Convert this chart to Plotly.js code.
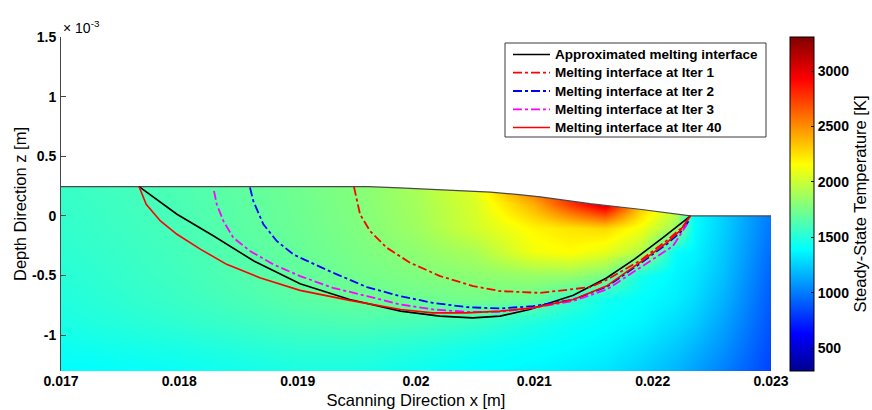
<!DOCTYPE html>
<html>
<head>
<meta charset="utf-8">
<script src="https://cdn.plot.ly/plotly-3.0.1.min.js"></script>
<style>html,body{margin:0;padding:0;background:#fff;}#chart{width:872px;height:410px;}</style>
</head>
<body>
<div id="chart"></div>
<script>
// ---- temperature field (K), grid ----
// depth values are in units of 1e-3 m (as shown on the axis with the ×10^-3 factor)
var gridX = [0.017, 0.0175, 0.018, 0.0185, 0.019, 0.0195, 0.020, 0.0205, 0.021, 0.0213, 0.0216, 0.0219, 0.0222, 0.02235, 0.0226, 0.023];
var gridZ = [-1.3, -1.1, -0.9, -0.7, -0.5, -0.3, -0.1, 0.1, 0.25];
var tempRowM130 = [1388, 1400, 1416, 1445, 1470, 1470, 1430, 1393, 1370, 1345, 1316, 1250, 1170, 1110, 1010, 820];
var tempRowM110 = [1430, 1450, 1470, 1500, 1530, 1530, 1500, 1450, 1410, 1390, 1360, 1305, 1230, 1175, 1065, 845];
var tempRowM090 = [1470, 1500, 1530, 1565, 1600, 1620, 1600, 1560, 1480, 1430, 1400, 1365, 1290, 1240, 1115, 870];
var tempRowM070 = [1490, 1528, 1565, 1610, 1660, 1700, 1720, 1740, 1700, 1560, 1440, 1395, 1345, 1290, 1160, 895];
var tempRowM050 = [1508, 1547, 1585, 1635, 1684, 1738, 1776, 1814, 1853, 1853, 1776, 1454, 1365, 1325, 1200, 920];
var tempRowM030 = [1525, 1560, 1595, 1648, 1700, 1757, 1820, 1900, 2120, 2159, 2082, 1929, 1393, 1365, 1225, 950];
var tempRowM010 = [1539, 1573, 1607, 1661, 1715, 1776, 1868, 2021, 2182, 2236, 2274, 2120, 1853, 1393, 1245, 980];
var tempRowP010 = [1550, 1582, 1615, 1668, 1722, 1785, 1885, 2045, 2400, 2750, 3050, 2350, 2000, 1400, 1255, 990];
var tempRowP025 = [1562, 1592, 1623, 1677, 1730, 1791, 1899, 2080, 2650, 2950, 3300, 2700, 2150, 1410, 1260, 995];
var tempMin = 293, tempMax = 3307;

// ---- top surface of the domain ----
var surfX = [0.017, 0.0196, 0.01986, 0.02009, 0.02039, 0.02063, 0.02085, 0.02105, 0.02147, 0.02189, 0.02232, 0.023];
var surfZ = [0.245, 0.245, 0.236, 0.225, 0.21, 0.20, 0.18, 0.16, 0.103, 0.056, 0.0, 0.0];

// ---- melting interfaces ----
var approxX = [0.01766, 0.01798, 0.01829, 0.01863, 0.01902, 0.01944, 0.01987, 0.02020, 0.02048, 0.02071, 0.02096, 0.02133, 0.02161, 0.02185, 0.02209, 0.02232];
var approxZ = [0.245, 0.014, -0.168, -0.378, -0.569, -0.700, -0.798, -0.840, -0.855, -0.840, -0.785, -0.665, -0.52, -0.36, -0.18, 0.0];

var iter1X = [0.019476, 0.019527, 0.019611, 0.019752, 0.019949, 0.020203, 0.020482, 0.020710, 0.021048, 0.021471, 0.021614, 0.021893, 0.022121, 0.022256, 0.02231];
var iter1Z = [0.244, 0.014, -0.126, -0.266, -0.392, -0.504, -0.588, -0.630, -0.645, -0.597, -0.535, -0.375, -0.205, -0.09, -0.01];

var iter2X = [0.018597, 0.018625, 0.018710, 0.018823, 0.018963, 0.019020, 0.019299, 0.019586, 0.019865, 0.020144, 0.020431, 0.020710, 0.020989, 0.021327, 0.021614, 0.021893, 0.022121, 0.022256, 0.022315];
var iter2Z = [0.238, 0.126, -0.070, -0.210, -0.322, -0.350, -0.476, -0.597, -0.672, -0.729, -0.765, -0.776, -0.756, -0.702, -0.592, -0.400, -0.235, -0.118, -0.025];

var iter3X = [0.018293, 0.018316, 0.018372, 0.018456, 0.018597, 0.018794, 0.019020, 0.019299, 0.019586, 0.019865, 0.020144, 0.020431, 0.020710, 0.020989, 0.021327, 0.021614, 0.021893, 0.022172, 0.022290];
var iter3Z = [0.21, 0.098, -0.042, -0.182, -0.294, -0.406, -0.504, -0.603, -0.672, -0.742, -0.784, -0.804, -0.804, -0.771, -0.714, -0.616, -0.434, -0.252, -0.07];

var iter40X = [0.01766, 0.01772, 0.01784, 0.01798, 0.01818, 0.01840, 0.01868, 0.01902, 0.01944, 0.01987, 0.02014, 0.02043, 0.02071, 0.02099, 0.02133, 0.02161, 0.02189, 0.02212, 0.02223, 0.02232];
var iter40Z = [0.245, 0.098, -0.042, -0.154, -0.280, -0.406, -0.518, -0.624, -0.708, -0.784, -0.813, -0.813, -0.798, -0.771, -0.700, -0.588, -0.392, -0.224, -0.126, 0.0];

var xTicks = [0.017, 0.018, 0.019, 0.020, 0.021, 0.022, 0.023];
var xTickText = ['0.017', '0.018', '0.019', '0.02', '0.021', '0.022', '0.023'];
var zTicks = [-1, -0.5, 0, 0.5, 1, 1.5];
var zTickText = ['-1', '-0.5', '0', '0.5', '1', '1.5'];
var cbTicks = [500, 1000, 1500, 2000, 2500, 3000];

var legendNames = ['Approximated melting interface', 'Melting interface at Iter 1', 'Melting interface at Iter 2', 'Melting interface at Iter 3', 'Melting interface at Iter 40'];

// ---- build ----
var FONT = 'Liberation Sans, Arial, sans-serif';
var jet = [[0, '#00008F'], [0.111, '#0000FF'], [0.365, '#00FFFF'], [0.619, '#FFFF00'], [0.873, '#FF0000'], [1, '#800000']];

var field = {
  type: 'heatmap', x: gridX, y: gridZ,
  z: [tempRowM130, tempRowM110, tempRowM090, tempRowM070, tempRowM050, tempRowM030, tempRowM010, tempRowP010, tempRowP025],
  zsmooth: 'best', colorscale: jet, zmin: tempMin, zmax: tempMax, hoverinfo: 'skip',
  colorbar: {
    x: 1.0268, xanchor: 'left', xpad: 0, y: 0.5, yanchor: 'middle', ypad: 0,
    len: 1, lenmode: 'fraction', thickness: 24, thicknessmode: 'pixels',
    outlinecolor: '#000', outlinewidth: 1,
    tickvals: cbTicks, ticks: 'inside', ticklen: 3, tickcolor: '#000',
    tickfont: {family: FONT, size: 14, color: '#000', weight: 'bold'},
    title: {text: 'Steady-State Temperature [K]', side: 'right', font: {family: FONT, size: 16.5, color: '#000'}}
  }
};

var maskX = surfX.concat([0.0235, 0.0235, 0.0165, 0.0165]);
var maskZ = surfZ.concat([0, 2, 2, surfZ[0]]);
var mask = {type: 'scatter', mode: 'lines', x: maskX, y: maskZ, fill: 'toself', fillcolor: '#ffffff',
  line: {width: 0, color: '#ffffff'}, showlegend: false, hoverinfo: 'skip'};
var surface = {type: 'scatter', mode: 'lines', x: surfX, y: surfZ, line: {color: '#4a4a4a', width: 1.2},
  showlegend: false, hoverinfo: 'skip'};

var styles = [
  {color: '#000000', dash: 'solid', width: 1.6},
  {color: '#FF0000', dash: 'dashdot', width: 1.8},
  {color: '#0000FF', dash: 'dashdot', width: 1.8},
  {color: '#FF00FF', dash: 'dashdot', width: 1.8},
  {color: '#FF0000', dash: 'solid', width: 1.6}
];
var curveX = [approxX, iter1X, iter2X, iter3X, iter40X];
var curveZ = [approxZ, iter1Z, iter2Z, iter3Z, iter40Z];

var traces = [field, mask, surface];
for (var i = 0; i < 5; i++) {
  traces.push({type: 'scatter', mode: 'lines', x: curveX[i], y: curveZ[i], name: legendNames[i],
    line: styles[i], showlegend: false, hoverinfo: 'skip'});
}

// legend box drawn in paper coordinates (MATLAB-style compact legend)
var plotL = 61, plotR = 771, plotT = 37, plotB = 371;
function px2paperX(p) { return (p - plotL) / (plotR - plotL); }
function px2paperY(p) { return (plotB - p) / (plotB - plotT); }
var shapes = [{type: 'rect', xref: 'paper', yref: 'paper',
  x0: px2paperX(505), x1: px2paperX(766), y0: px2paperY(137), y1: px2paperY(43),
  fillcolor: '#ffffff', line: {color: '#3a3a3a', width: 1}, layer: 'above'}];
var annotations = [];
var rowPx = [54.5, 72.7, 91, 109.3, 127.5];
for (var k = 0; k < 5; k++) {
  var yy = px2paperY(rowPx[k]);
  shapes.push({type: 'line', xref: 'paper', yref: 'paper', x0: px2paperX(513), x1: px2paperX(550), y0: yy, y1: yy,
    line: {color: styles[k].color, dash: styles[k].dash, width: styles[k].width}, layer: 'above'});
  annotations.push({xref: 'paper', yref: 'paper', x: px2paperX(553), y: yy, xanchor: 'left', yanchor: 'middle',
    text: legendNames[k], showarrow: false, font: {family: FONT, size: 13.5, color: '#000', weight: 'bold'}});
}
annotations.push({
  xref: 'paper', yref: 'paper', x: 0, y: 1, xanchor: 'left', yanchor: 'bottom', yshift: -1,
  text: '× 10<sup>-3</sup>', showarrow: false, font: {family: FONT, size: 14, color: '#000'}
});

var layout = {
  width: 872, height: 410,
  margin: {l: plotL, r: 872 - plotR, t: plotT, b: 410 - plotB, pad: 0, autoexpand: false},
  paper_bgcolor: '#ffffff', plot_bgcolor: '#ffffff',
  font: {family: FONT, size: 14, color: '#000'},
  showlegend: false,
  xaxis: {
    range: [0.017, 0.023], tickvals: xTicks, ticktext: xTickText, ticks: '',
    showgrid: false, zeroline: false, showline: false,
    tickfont: {family: FONT, size: 14, color: '#000', weight: 'bold'},
    title: {text: 'Scanning Direction x [m]', font: {family: FONT, size: 16.5, color: '#000'}, standoff: 6}
  },
  yaxis: {
    range: [-1.3, 1.5], tickvals: zTicks, ticktext: zTickText, ticks: 'inside', ticklen: 5, tickcolor: '#444',
    showgrid: false, zeroline: false, showline: true, linecolor: '#444', linewidth: 1,
    ticklabelstandoff: 1,
    tickfont: {family: FONT, size: 14, color: '#000', weight: 'bold'},
    title: {text: 'Depth Direction z [m]', font: {family: FONT, size: 16.5, color: '#000'}, standoff: 1}
  },
  shapes: shapes,
  annotations: annotations
};

Plotly.newPlot('chart', traces, layout, {displayModeBar: false, staticPlot: true});
</script>
</body>
</html>
